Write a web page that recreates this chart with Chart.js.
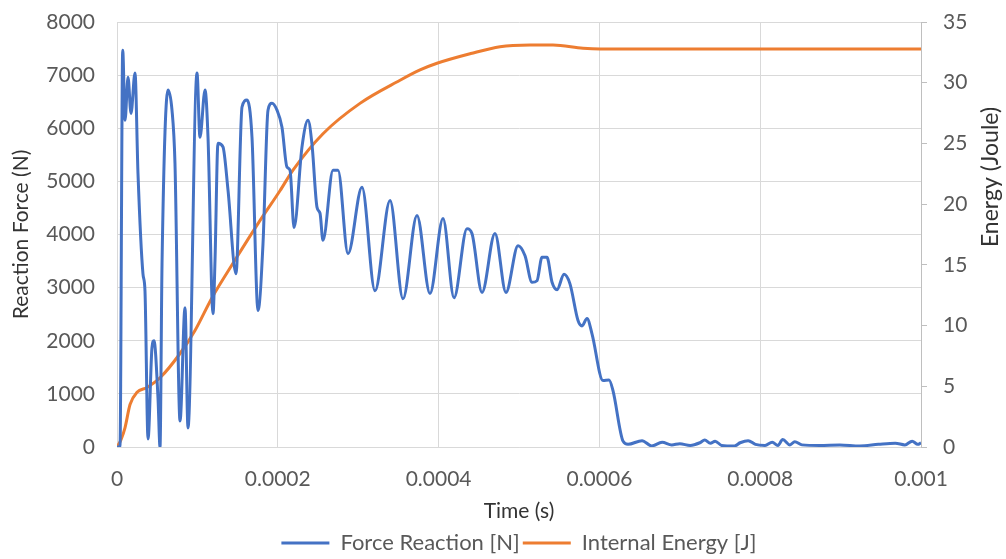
<!DOCTYPE html>
<html>
<head>
<meta charset="utf-8">
<script src="https://cdn.jsdelivr.net/npm/chart.js@4.4.0/dist/chart.umd.min.js"></script>
<style>
  html, body { margin: 0; padding: 0; background: #fff; }
</style>
</head>
<body>
<canvas id="chart" width="1006" height="559"></canvas>
<script>
// time stamps in microseconds, converted to seconds when the datasets are built
var forceTime = [0, 3.7, 7.1, 10, 13.7, 17.4, 22.4, 26.1, 32.3, 34.8, 38.6, 43.5, 46, 51, 53.5, 56, 63.4, 68.4, 72.1, 78.4,
    84.6, 88.3, 99.5, 103.2, 109.5, 113.2, 119.4, 121.9, 125.6, 131.8, 138.1, 148, 155.5, 161.7, 167.9, 175.4, 181.6, 187.8,
    192.8, 199, 205.2, 211.4, 215.2, 220.2, 230.1, 237.6, 242.5, 248.8, 252.5, 256.2, 268.7, 274.9, 287.3, 304.7, 320.9,
    339.6, 355.7, 373.1, 389.3, 405.5, 419.2, 435.3, 441.5, 454, 470.1, 483.8, 498.8, 507.5, 516.2, 522.4, 528.6, 534.8,
    541.1, 547.3, 556, 563.4, 573.4, 578.4, 584.6, 590.8, 604.5, 612, 616.9, 629.4, 635.6, 653, 665, 678, 690, 700, 713,
    725, 731, 738, 744, 752, 768, 775, 785, 794, 806, 815, 822, 828, 837, 843, 852, 874, 899, 924, 947, 968, 980, 989, 996, 1000];
var forceReaction = [0, 0, 7470, 6150, 6960, 6280, 7040, 5150, 3260, 2940, 150, 1870, 2000, 920, 0, 3450, 6720, 6340, 5340, 490,
    2620, 360, 7040, 5830, 6720, 5830, 2510, 3510, 5720, 5650, 4830, 3260, 6400, 6530, 5830, 2570, 3830, 6340,
    6470, 6340, 6020, 5270, 5210, 4130, 5650, 6150, 5700, 4510, 4400, 3890, 5210, 5210, 3640, 4890, 2940,
    4640, 2790, 4360, 2890, 4300, 2810, 4110, 4020, 2910, 4020, 2910, 3790, 3600, 3100, 3130, 3570, 3570,
    3100, 2960, 3250, 3070, 2380, 2280, 2420, 2130, 1250, 1260, 1060, 110, 50, 120, 20, 90, 40, 60, 30,
    80, 130, 70, 110, 30, 20, 80, 120, 50, 30, 90, 30, 140, 40, 100, 40, 30, 40, 20, 50, 70, 40, 110, 50, 80];

var energyTime = [0, 5, 10, 16.2, 24.9, 37.3, 53.5, 78.4, 97, 118.2, 146.8, 175.4, 202.7, 218.9, 256.2, 302.2, 352, 376.9,
    398, 440, 476.4, 513.7, 542.3, 579.6, 600.8, 1000];
var internalEnergy = [0, 0.6, 1.6, 3.5, 4.5, 4.9, 5.7, 7.7, 9.6, 12.3, 15.4, 18.4, 21.1, 22.8, 25.8, 28.3, 30.2, 31.05,
    31.6, 32.4, 32.97, 33.1, 33.1, 32.84, 32.78, 32.78];

var timeTicks = [0, 0.0002, 0.0004, 0.0006, 0.0008, 0.001];
var forceTicks = [0, 1000, 2000, 3000, 4000, 5000, 6000, 7000, 8000];
var energyTicks = [0, 5, 10, 15, 20, 25, 30, 35];

function toPoints(times, values) {
    return times.map(function (t, i) { return { x: t * 1e-6, y: values[i] }; });
}

var FONT = 'Lato';
var tickColor = '#595959';
var titleColor = '#333333';
var gridColor = '#D9D9D9';

// fixed side widths; drop the label overhang so layout padding decides the top
function fixVertical(width) {
    return function (axis) {
        axis.width = width;
        axis.paddingTop = 0;
        axis.paddingBottom = 0;
    };
}

// Chart.js rotates a right-hand title the other way, so draw it here
var rightTitle = {
    id: 'rightTitle',
    afterDraw: function (chart) {
        var ctx = chart.ctx;
        ctx.save();
        ctx.translate(chart.width - 15, 177);
        ctx.rotate(-Math.PI / 2);
        ctx.font = '23px ' + FONT;
        ctx.fillStyle = titleColor;
        ctx.textAlign = 'center';
        ctx.textBaseline = 'middle';
        ctx.fillText('Energy (Joule)', 0, 0);
        ctx.restore();
    }
};

// the legend sits under the plot area rather than the whole canvas, a bit lower
var legendUnderPlot = {
    id: 'legendUnderPlot',
    afterLayout: function (chart) {
        var shift = (chart.chartArea.left + chart.chartArea.right - chart.width) / 2;
        chart.legend.left += shift;
        chart.legend.right += shift;
        chart.legend.top += 5;
        chart.legend.bottom += 5;
    }
};

new Chart(document.getElementById('chart').getContext('2d'), {
    type: 'line',
    data: {
        datasets: [{
            label: 'Force Reaction [N]',
            data: toPoints(forceTime, forceReaction),
            borderColor: '#4472C4',
            backgroundColor: '#4472C4',
            borderWidth: 3,
            pointRadius: 0,
            cubicInterpolationMode: 'monotone',
            yAxisID: 'y'
        }, {
            label: 'Internal Energy [J]',
            data: toPoints(energyTime, internalEnergy),
            borderColor: '#ED7D31',
            backgroundColor: '#ED7D31',
            borderWidth: 3,
            pointRadius: 0,
            cubicInterpolationMode: 'monotone',
            yAxisID: 'y1'
        }]
    },
    options: {
        responsive: false,
        animation: false,
        layout: { padding: { top: 22, left: 0, right: 0, bottom: 0 } },
        plugins: {
            legend: {
                position: 'bottom',
                labels: {
                    usePointStyle: true,
                    pointStyle: 'line',
                    pointStyleWidth: 48,
                    padding: 3,
                    color: tickColor,
                    font: { family: FONT, size: 22 }
                }
            },
            tooltip: { enabled: false }
        },
        scales: {
            x: {
                type: 'linear',
                min: 0,
                max: 0.001,
                afterBuildTicks: function (axis) { axis.ticks = timeTicks.map(function (v) { return { value: v }; }); },
                afterFit: function (axis) { axis.height = 77; },
                ticks: {
                    autoSkip: false,
                    maxRotation: 0,
                    padding: 20,
                    color: tickColor,
                    font: { family: FONT, size: 21 },
                    callback: function (v) { return parseFloat(v.toFixed(4)).toString(); }
                },
                grid: { color: gridColor, drawTicks: false },
                border: { color: gridColor },
                title: {
                    display: true,
                    text: 'Time (s)',
                    color: titleColor,
                    font: { family: FONT, size: 21 },
                    padding: { top: 0, bottom: 0 }
                }
            },
            y: {
                position: 'left',
                min: 0,
                max: 8000,
                afterBuildTicks: function (axis) { axis.ticks = forceTicks.map(function (v) { return { value: v }; }); },
                afterFit: fixVertical(117),
                ticks: {
                    padding: 22,
                    color: tickColor,
                    font: { family: FONT, size: 21 },
                    callback: function (v) { return String(v); }
                },
                grid: { color: gridColor, drawTicks: false },
                border: { color: gridColor },
                title: {
                    display: true,
                    text: 'Reaction Force (N)',
                    color: titleColor,
                    font: { family: FONT, size: 21 },
                    padding: { top: 9, bottom: 0 }
                }
            },
            y1: {
                position: 'right',
                min: 0,
                max: 35,
                afterBuildTicks: function (axis) { axis.ticks = energyTicks.map(function (v) { return { value: v }; }); },
                afterFit: fixVertical(85),
                ticks: {
                    padding: 16,
                    color: tickColor,
                    font: { family: FONT, size: 21 }
                },
                grid: { drawOnChartArea: false, drawTicks: true, tickLength: 6, color: '#BFBFBF' },
                border: { color: '#BFBFBF' }
            }
        }
    },
    plugins: [rightTitle, legendUnderPlot]
});
</script>
</body>
</html>
